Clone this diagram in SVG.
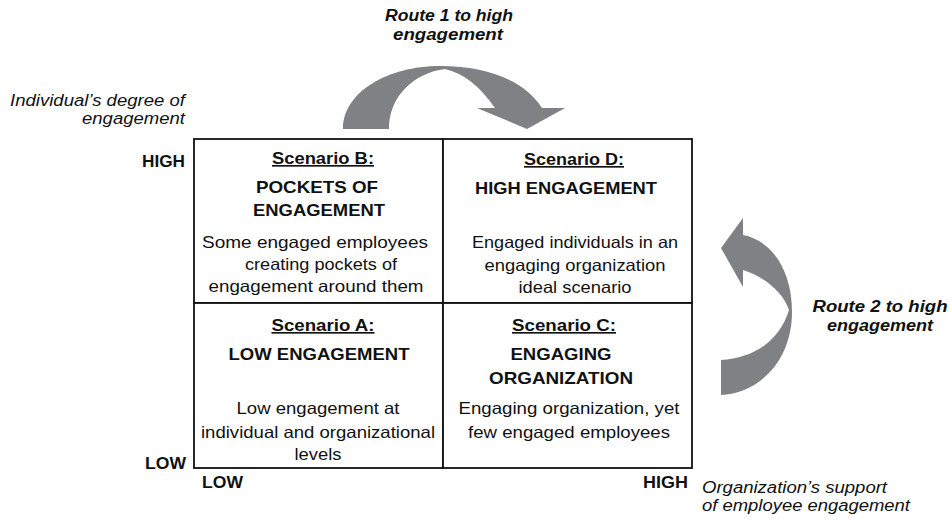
<svg xmlns="http://www.w3.org/2000/svg" width="949" height="523" viewBox="0 0 949 523">
  <style>
    text { font-family: "Liberation Sans", Arial, Helvetica, sans-serif; fill: #111; }
    .body { font-size: 16.5px; text-anchor: middle; }
    .head { font-size: 16.5px; font-weight: bold; text-anchor: middle; }
    .scn { font-size: 16.5px; font-weight: bold; text-anchor: middle; text-decoration: underline; }
    .axis { font-size: 16.5px; font-weight: bold; }
    .axtitle { font-size: 16px; font-style: italic; }
    .route { font-size: 16px; font-weight: bold; font-style: italic; text-anchor: middle; }
    .cell { fill: #fff; stroke: #111; stroke-width: 1.8; }
    .arrow { fill: #808184; stroke: none; }
  </style>

  <!-- axis titles and scale labels -->
  <g id="y-axis">
    <text class="axtitle" x="185" y="106" text-anchor="end" textLength="175" lengthAdjust="spacingAndGlyphs">Individual’s degree of</text>
    <text class="axtitle" x="185" y="124" text-anchor="end" textLength="103" lengthAdjust="spacingAndGlyphs">engagement</text>
    <text class="axis" x="185" y="167" text-anchor="end" textLength="43" lengthAdjust="spacingAndGlyphs">HIGH</text>
    <text class="axis" x="186" y="469" text-anchor="end" textLength="41" lengthAdjust="spacingAndGlyphs">LOW</text>
  </g>
  <g id="x-axis">
    <text class="axis" x="202" y="488" textLength="41" lengthAdjust="spacingAndGlyphs">LOW</text>
    <text class="axis" x="688" y="488" text-anchor="end" textLength="45" lengthAdjust="spacingAndGlyphs">HIGH</text>
    <text class="axtitle" x="702" y="493" textLength="185" lengthAdjust="spacingAndGlyphs">Organization’s support</text>
    <text class="axtitle" x="702" y="511" textLength="208" lengthAdjust="spacingAndGlyphs">of employee engagement</text>
  </g>

  <!-- quadrant B: top left -->
  <g id="scenario-b">
    <rect class="cell" x="194" y="139" width="249" height="164"/>
    <text class="scn" x="323" y="164" textLength="102" lengthAdjust="spacingAndGlyphs">Scenario B:</text>
    <text class="head" x="317" y="193" textLength="122" lengthAdjust="spacingAndGlyphs">POCKETS OF</text>
    <text class="head" x="319" y="216" textLength="132" lengthAdjust="spacingAndGlyphs">ENGAGEMENT</text>
    <text class="body" x="315" y="248" textLength="226" lengthAdjust="spacingAndGlyphs">Some engaged employees</text>
    <text class="body" x="321" y="270" textLength="152" lengthAdjust="spacingAndGlyphs">creating pockets of</text>
    <text class="body" x="316" y="292" textLength="215" lengthAdjust="spacingAndGlyphs">engagement around them</text>
  </g>

  <!-- quadrant D: top right -->
  <g id="scenario-d">
    <rect class="cell" x="443" y="139" width="249" height="164"/>
    <text class="scn" x="574" y="165" textLength="100" lengthAdjust="spacingAndGlyphs">Scenario D:</text>
    <text class="head" x="566" y="194" textLength="182" lengthAdjust="spacingAndGlyphs">HIGH ENGAGEMENT</text>
    <text class="body" x="575" y="248" textLength="206" lengthAdjust="spacingAndGlyphs">Engaged individuals in an</text>
    <text class="body" x="575" y="271" textLength="181" lengthAdjust="spacingAndGlyphs">engaging organization</text>
    <text class="body" x="575" y="293" textLength="113" lengthAdjust="spacingAndGlyphs">ideal scenario</text>
  </g>

  <!-- quadrant A: bottom left -->
  <g id="scenario-a">
    <rect class="cell" x="194" y="303" width="249" height="165"/>
    <text class="scn" x="323" y="331" textLength="103" lengthAdjust="spacingAndGlyphs">Scenario A:</text>
    <text class="head" x="319" y="360" textLength="181" lengthAdjust="spacingAndGlyphs">LOW ENGAGEMENT</text>
    <text class="body" x="318" y="414" textLength="163" lengthAdjust="spacingAndGlyphs">Low engagement at</text>
    <text class="body" x="318" y="438" textLength="234" lengthAdjust="spacingAndGlyphs">individual and organizational</text>
    <text class="body" x="318" y="460" textLength="47" lengthAdjust="spacingAndGlyphs">levels</text>
  </g>

  <!-- quadrant C: bottom right -->
  <g id="scenario-c">
    <rect class="cell" x="443" y="303" width="249" height="165"/>
    <text class="scn" x="564" y="331" textLength="104" lengthAdjust="spacingAndGlyphs">Scenario C:</text>
    <text class="head" x="561" y="360" textLength="101" lengthAdjust="spacingAndGlyphs">ENGAGING</text>
    <text class="head" x="561" y="384" textLength="144" lengthAdjust="spacingAndGlyphs">ORGANIZATION</text>
    <text class="body" x="569" y="414" textLength="221" lengthAdjust="spacingAndGlyphs">Engaging organization, yet</text>
    <text class="body" x="569" y="438" textLength="202" lengthAdjust="spacingAndGlyphs">few engaged employees</text>
  </g>

  <!-- curved route arrows -->
  <g id="connectors">
    <path class="arrow" d="M343,129 C343,92 388,66 440,66 C490,66 525,82 542,108 L565,108 L527,129 L477,108 L495,108 C480,86 463,73 445,69 C414,73 389,96 389,129 Z"/>
    <path class="arrow" d="M743,218 L721,248 L743,287 L743,270 C765,277 783,292 789,310 C780,340 755,358 721,360 L721,395 C760,393 792,360 792,312 C792,268 770,240 743,235 Z"/>
  </g>

  <g id="route-labels">
    <text class="route" x="449" y="21" textLength="128" lengthAdjust="spacingAndGlyphs">Route 1 to high</text>
    <text class="route" x="448" y="40" textLength="110" lengthAdjust="spacingAndGlyphs">engagement</text>
    <text class="route" x="880" y="312" textLength="135" lengthAdjust="spacingAndGlyphs">Route 2 to high</text>
    <text class="route" x="880" y="331" textLength="106" lengthAdjust="spacingAndGlyphs">engagement</text>
  </g>
</svg>
